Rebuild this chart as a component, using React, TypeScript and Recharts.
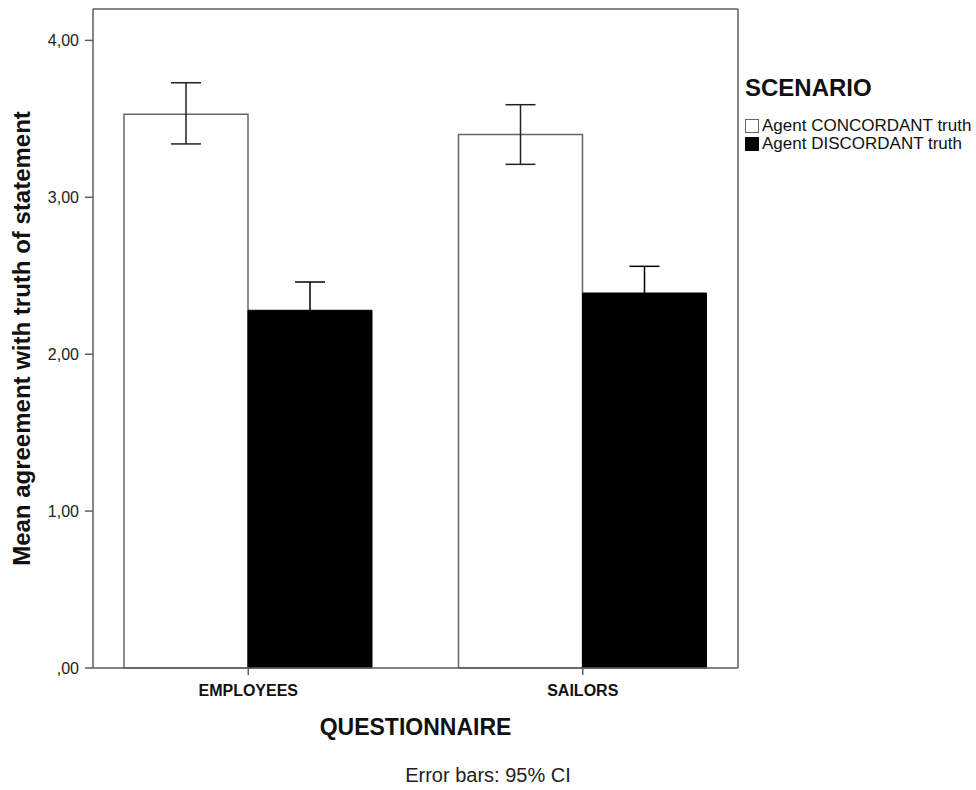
import React from "react";
import {
  BarChart,
  Bar,
  XAxis,
  YAxis,
  ErrorBar,
} from "recharts";

const categories = ["EMPLOYEES", "SAILORS"];

// means and 95% CI bounds per questionnaire
const concordantMean = [3.53, 3.4];
const concordantLow = [3.34, 3.21];
const concordantHigh = [3.73, 3.59];

const discordantMean = [2.28, 2.39];
const discordantLow = [2.1, 2.21];
const discordantHigh = [2.46, 2.56];

const seriesNames = ["Agent CONCORDANT truth", "Agent DISCORDANT truth"];
const yTicks = [0, 1, 2, 3, 4];

const data = categories.map((name, i) => ({
  name,
  concordant: concordantMean[i],
  discordant: discordantMean[i],
  concordantErr: [
    concordantMean[i] - concordantLow[i],
    concordantHigh[i] - concordantMean[i],
  ],
  discordantErr: [
    discordantMean[i] - discordantLow[i],
    discordantHigh[i] - discordantMean[i],
  ],
}));

const FONT = "'Liberation Sans', Arial, sans-serif";
const FRAME = "#5e5e5e";

function formatTick(v: number): string {
  if (v === 0) return ",00";
  return v.toFixed(2).replace(".", ",");
}

function YTitle(props: any) {
  const { viewBox } = props;
  const x = viewBox.x + 21;
  const y = viewBox.y + viewBox.height / 2;
  return (
    <text
      x={x}
      y={y}
      transform={`rotate(-90 ${x} ${y})`}
      textAnchor="middle"
      dominantBaseline="central"
      fontFamily={FONT}
      fontWeight="bold"
      fontSize={24}
      fill="#111"
    >
      Mean agreement with truth of statement
    </text>
  );
}

function XTitle(props: any) {
  const { viewBox } = props;
  const cx = viewBox.x + viewBox.width / 2;
  return (
    <g fontFamily={FONT} fill="#111">
      <text x={cx} y={735} textAnchor="middle" fontWeight="bold" fontSize={23}>
        QUESTIONNAIRE
      </text>
      <text x={488} y={782} textAnchor="middle" fontSize={20} fill="#222">
        Error bars: 95% CI
      </text>
    </g>
  );
}

function ScenarioLegend() {
  const swatch = (fill: string) => (
    <span
      style={{
        display: "inline-block",
        boxSizing: "border-box",
        width: 14,
        height: 14,
        border: `1.5px solid ${fill === "#fff" ? "#666" : "#000"}`,
        background: fill,
        marginRight: 3,
      }}
    />
  );
  return (
    <div
      style={{
        position: "absolute",
        left: 745,
        top: 74,
        fontFamily: FONT,
        color: "#111",
      }}
    >
      <div style={{ fontWeight: "bold", fontSize: 24, marginBottom: 15 }}>
        SCENARIO
      </div>
      {seriesNames.map((s, i) => (
        <div
          key={s}
          style={{
            display: "flex",
            alignItems: "center",
            fontSize: 17,
            height: 18,
          }}
        >
          {swatch(i === 0 ? "#fff" : "#000")}
          {s}
        </div>
      ))}
    </div>
  );
}

export default function App() {
  return (
    <div
      style={{
        position: "absolute",
        left: 0,
        top: 0,
        width: 976,
        height: 790,
        background: "#fff",
      }}
    >
      <BarChart
        width={976}
        height={790}
        data={data}
        margin={{ top: 8, right: 237, bottom: 92, left: 0 }}
        barGap={0}
        barCategoryGap={0}
      >
        <XAxis
          dataKey="name"
          padding={{ left: -12, right: -12 }}
          height={30}
          stroke={FRAME}
          strokeWidth={1.5}
          tickSize={7}
          tick={{
            fontFamily: FONT,
            fontWeight: "bold",
            fontSize: 16,
            fill: "#111",
            dy: 8,
          }}
          label={<XTitle />}
        />
        {/* top and right edges of the frame */}
        <XAxis
          xAxisId="top"
          orientation="top"
          dataKey="name"
          height={1}
          tick={false}
          tickLine={false}
          stroke={FRAME}
          strokeWidth={1.5}
        />
        <YAxis
          domain={[0, 4.2]}
          ticks={yTicks}
          width={93}
          tickSize={8}
          tickMargin={6}
          stroke={FRAME}
          strokeWidth={1.5}
          tickFormatter={formatTick}
          tick={{ fontFamily: FONT, fontSize: 16, fill: "#222" }}
          label={<YTitle />}
        />
        <YAxis
          yAxisId="right"
          orientation="right"
          domain={[0, 4.2]}
          width={1}
          tick={false}
          tickLine={false}
          stroke={FRAME}
          strokeWidth={1.5}
        />
        <Bar
          dataKey="concordant"
          name={seriesNames[0]}
          fill="#fff"
          stroke="#666"
          strokeWidth={1.5}
          barSize={124}
          isAnimationActive={false}
        >
          <ErrorBar
            dataKey="concordantErr"
            width={15}
            stroke="#222"
            strokeWidth={1.5}
            isAnimationActive={false}
          />
        </Bar>
        <Bar
          dataKey="discordant"
          name={seriesNames[1]}
          fill="#000"
          stroke="#000"
          strokeWidth={1}
          barSize={124}
          isAnimationActive={false}
        >
          <ErrorBar
            dataKey="discordantErr"
            width={15}
            stroke="#000"
            strokeWidth={1.5}
            isAnimationActive={false}
          />
        </Bar>
      </BarChart>
      <ScenarioLegend />
    </div>
  );
}
